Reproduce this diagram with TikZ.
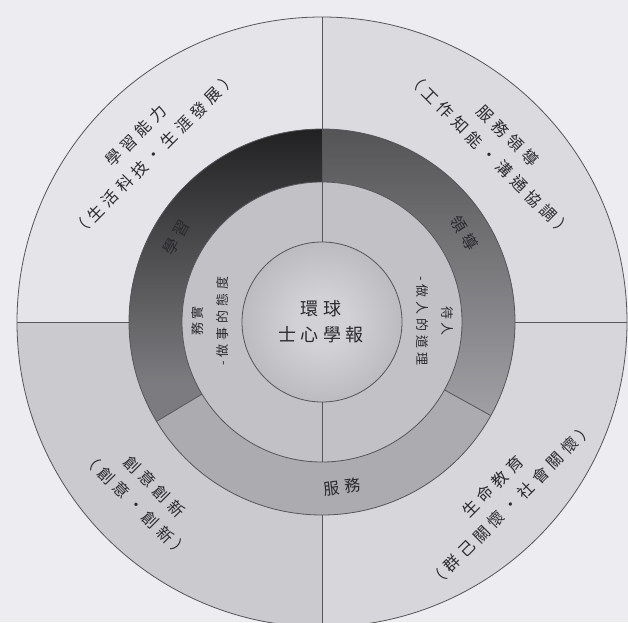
\documentclass[tikz,border=0pt]{standalone}
\usepackage{fontspec}
\newfontfamily\cjkO[LetterSpace=30]{Noto Sans CJK TC}
\newfontfamily\cjkC[LetterSpace=25]{Noto Sans CJK TC}
\newfontfamily\cjkI[LetterSpace=30]{Noto Sans CJK TC}
\usetikzlibrary{fadings}
\definecolor{bg}{HTML}{ECECF1}
\definecolor{qtl}{HTML}{E5E5E9}
\definecolor{qtr}{HTML}{DBDBDF}
\definecolor{qbl}{HTML}{CBCBCF}
\definecolor{qbr}{HTML}{D7D7DB}
\definecolor{ol}{HTML}{55555A}
\definecolor{txt}{HTML}{2A2A2E}
\definecolor{lbin}{HTML}{7C7C80}
\definecolor{lbout}{HTML}{121214}
\definecolor{ldin}{HTML}{A6A6AA}
\definecolor{ldout}{HTML}{6A6A6E}
\definecolor{svin}{HTML}{ACACB0}
\definecolor{svout}{HTML}{9E9EA2}
\definecolor{irin}{HTML}{C2C2C6}
\definecolor{irout}{HTML}{C8C8CC}
\definecolor{ccin}{HTML}{D2D2D6}
\definecolor{ccout}{HTML}{9C9CA0}
% radial shadings: 50bp = radius 193 (bands), 140 (inner ring), 80 (centre)
\pgfdeclareradialshading{learnband}{\pgfpoint{0bp}{0bp}}{color(0bp)=(lbin); color(36.3bp)=(lbin); color(50bp)=(lbout)}
\pgfdeclareradialshading{leadband}{\pgfpoint{0bp}{0bp}}{color(0bp)=(ldin); color(36.3bp)=(ldin); color(50bp)=(ldout)}
\pgfdeclareradialshading{servband}{\pgfpoint{0bp}{0bp}}{color(0bp)=(svin); color(36.3bp)=(svin); color(50bp)=(svout)}
\pgfdeclareradialshading{innerring}{\pgfpoint{0bp}{0bp}}{color(0bp)=(irin); color(28.6bp)=(irin); color(50bp)=(irout)}
\pgfdeclareradialshading{centre}{\pgfpoint{0bp}{0bp}}{color(0bp)=(ccin); color(8bp)=(ccin); color(50bp)=(ccout)}
\tikzset{
  outline/.style={draw=ol, line width=0.8pt},
  outerlbl/.style={text=txt, align=center, inner sep=0pt, font=\cjkO\fontsize{16}{26}\selectfont},
  bandlbl/.style={text=txt, inner sep=0pt, font=\cjkO\fontsize{16}{20}\selectfont},
  centrelbl/.style={text=txt, align=center, inner sep=0pt, font=\cjkC\fontsize{18}{26}\selectfont},
  innerlbl/.style={text=txt, align=center, inner sep=0pt, font=\cjkI\fontsize{13}{25}\selectfont},
}
\begin{document}
\begin{tikzpicture}[x=1pt,y=1pt]
\useasboundingbox (-322,-300) rectangle (306,322);
\fill[bg] (-322,-300) rectangle (306,322);
% outer quadrants
\begin{scope}
  \clip (0,0) circle (305);
  \fill[qtl] (-330,0) rectangle (0,330);
  \fill[qbl] (-330,-330) rectangle (0,0);
  \fill[qtr] (0,0) rectangle (330,330);
  \fill[qbr] (0,-330) rectangle (330,0);
\end{scope}
\draw[outline] (0,193) -- (0,305);
\draw[outline] (0,-193) -- (0,-305);
\draw[outline] (-193,0) -- (-305,0);
\draw[outline] (193,0) -- (305,0);
% middle ring: learning band
\begin{scope}
  \clip (90:193) arc (90:211:193) -- (211:140) arc (211:90:140) -- cycle;
  \shade[shading=learnband] (0,0) circle (193);
  \fill[black, opacity=0.75, path fading=south] (-200,-60) rectangle (10,200);
\end{scope}
% leadership band
\begin{scope}
  \clip (-29:193) arc (-29:90:193) -- (90:140) arc (90:-29:140) -- cycle;
  \shade[shading=leadband] (0,0) circle (193);
  \fill[black, opacity=0.5, path fading=south] (-10,-110) rectangle (200,200);
\end{scope}
% service band
\begin{scope}
  \clip (211:193) arc (211:331:193) -- (331:140) arc (331:211:140) -- cycle;
  \shade[shading=servband] (0,0) circle (193);
\end{scope}
% inner ring
\begin{scope}
  \clip (0,0) circle (140);
  \shade[shading=innerring] (0,0) circle (140);
\end{scope}
% centre
\shade[shading=centre] (0,0) circle (80);
% outlines
\draw[outline] (0,0) circle (305);
\draw[outline] (0,0) circle (193);
\draw[outline] (0,0) circle (140);
\draw[outline] (0,0) circle (80);
\draw[outline] (90:140) -- (90:193);
\draw[outline] (211:140) -- (211:193);
\draw[outline] (-29:140) -- (-29:193);
\draw[outline] (0,80) -- (0,140);
\draw[outline] (0,-80) -- (0,-140);
% outer labels
\node[outerlbl, rotate=45] (ltl) at (135:250) {學習能力\\（生活科技‧生涯發展）};
\node[outerlbl, rotate=-45] (ltr) at (45:250) {服務領導\\（工作知能‧溝通協調）};
\node[outerlbl, rotate=-45] (lbl) at (224.5:248) {創意創新\\（創意‧創新）};
\node[outerlbl, rotate=45] (lbr) at (-44:250) {生命教育\\（群己關懷‧社會關懷）};
% band labels
\node[bandlbl, rotate=60] (blearn) at (150:168) {學習};
\node[bandlbl, rotate=-58] (blead) at (32:168) {領導};
\node[bandlbl, rotate=7] (bserv) at (-83:166) {服務};
% inner ring labels
\node[innerlbl, rotate=90] (ileft) at (-112,1) {務實\\-做事的態度};
\node[innerlbl, rotate=-90] (iright) at (113,1) {待人\\-做人的道理};
% centre label
\node[centrelbl] (ctr) at (-1,0) {環球\\士心學報};
\end{tikzpicture}
\end{document}
